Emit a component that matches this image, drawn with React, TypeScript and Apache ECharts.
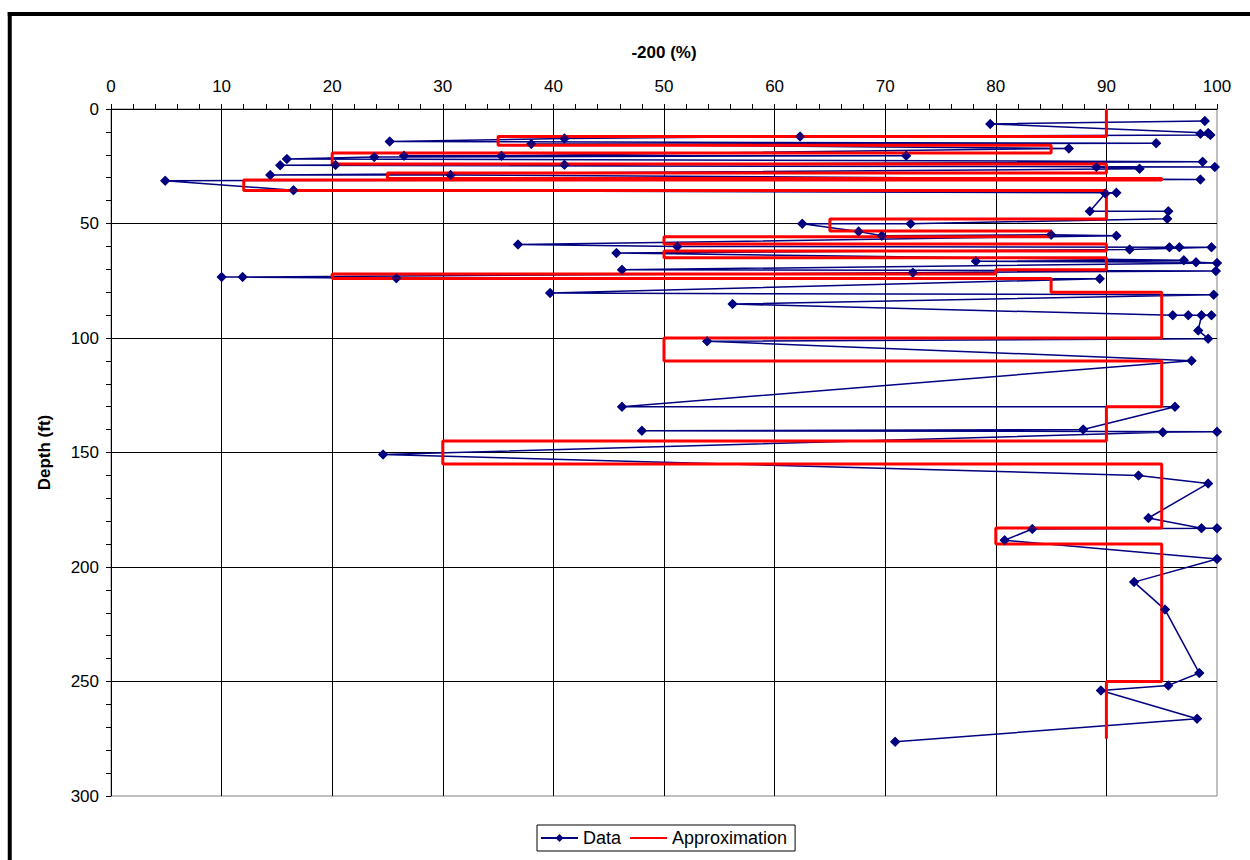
import React, { useEffect, useRef } from "react";
import * as echarts from "echarts";

const FONT = "Liberation Sans, Arial, sans-serif";

// Axis ranges / ticks
const X_MIN = 0;
const X_MAX = 100;
const X_STEP = 10;
const Y_MIN = 0;
const Y_MAX = 300;
const Y_STEP = 50;

// Measured data: -200 (%) and depth (ft), in plotted order
const dataPct = [
  98.9, 79.5, 99.2, 98.5, 99.4, 62.3, 41.0, 25.2, 94.5, 38.0,
  86.6, 35.3, 26.5, 71.9, 23.8, 15.9, 98.7, 41.0, 20.3, 15.3,
  99.8, 89.1, 93.0, 14.4, 30.7, 98.5, 4.9, 16.5, 90.9, 89.9,
  88.5, 95.6, 95.5, 72.3, 62.5, 67.6, 69.7, 85.0, 90.9, 36.8,
  51.2, 95.7, 96.6, 99.5, 92.1, 45.7, 97.0, 78.2, 98.1, 100.0,
  46.2, 99.9, 72.5, 10.0, 11.9, 25.8, 89.4, 39.7, 99.7, 56.2,
  96.0, 97.4, 99.5, 98.6, 98.3, 99.2, 53.9, 97.7, 46.2, 96.2,
  87.9, 48.0, 100.0, 95.1, 24.6, 92.9, 99.2, 93.8, 98.6, 100.0,
  83.3, 80.8, 100.0, 92.5, 95.3, 98.4, 95.6, 89.5, 98.2, 70.9,
];
const dataDepth = [
  5.2, 6.5, 10.5, 10.8, 11.4, 12.0, 12.9, 14.2, 15.0, 15.3,
  17.2, 20.4, 20.4, 20.4, 21.0, 21.8, 23.0, 24.3, 24.4, 24.6,
  25.3, 25.3, 26.1, 28.8, 28.8, 30.8, 31.3, 35.5, 36.6, 36.9,
  44.7, 44.7, 47.9, 50.1, 50.1, 53.5, 55.3, 54.9, 55.3, 59.2,
  60.0, 60.4, 60.4, 60.4, 61.4, 62.9, 66.1, 66.5, 66.9, 67.2,
  70.2, 70.7, 71.5, 73.4, 73.4, 73.9, 74.1, 80.4, 81.1, 85.2,
  90.1, 90.1, 90.1, 90.1, 96.7, 100.3, 101.4, 109.9, 130.0, 130.0,
  140.0, 140.5, 140.9, 141.2, 150.9, 160.0, 163.5, 178.6, 183.1, 183.1,
  183.4, 188.3, 196.5, 206.6, 218.6, 246.3, 251.7, 253.9, 266.3, 276.3,
];

// Step approximation: interval boundaries (ft) and value in each interval (%)
const approxDepths = [
  0, 12, 15.8, 19.2, 24, 28, 30.3, 31, 35.6, 48, 53.3, 55.8, 59, 62,
  65, 70.2, 72, 74, 80, 100, 110, 130, 145, 155, 183, 190, 250, 275,
];
const approxValues = [
  90, 35, 85, 20, 90, 25, 95, 12, 90, 65, 85, 50, 90, 50,
  90, 80, 20, 85, 95, 50, 95, 90, 30, 95, 80, 95, 90,
];

export default function App() {
  const ref = useRef<HTMLDivElement>(null);

  useEffect(() => {
    document.body.style.margin = "0";
    document.body.style.overflow = "hidden";
    if (!ref.current) return;
    const chart = echarts.init(ref.current, undefined, { renderer: "svg" });

    const dataPoints = dataPct.map((v, i) => [v, dataDepth[i]]);
    const approxPoints: number[][] = [];
    approxValues.forEach((v, i) => {
      approxPoints.push([v, approxDepths[i]]);
      approxPoints.push([v, approxDepths[i + 1]]);
    });

    const axisText = { fontSize: 17, color: "#000", fontFamily: FONT };

    chart.setOption({
      animation: false,
      backgroundColor: "#fff",
      textStyle: { fontFamily: FONT },
      grid: {
        left: 111,
        top: 109,
        width: 1106,
        height: 687,
        show: true,
        borderColor: "#808080",
        borderWidth: 1,
        backgroundColor: "transparent",
      },
      graphic: [
        {
          type: "line",
          silent: true,
          shape: { x1: 9.75, y1: 12, x2: 9.75, y2: 860 },
          style: { stroke: "#000", lineWidth: 4 },
        },
        {
          type: "line",
          silent: true,
          shape: { x1: 7.75, y1: 14, x2: 1250, y2: 14 },
          style: { stroke: "#000", lineWidth: 4 },
        },
      ],
      legend: {
        data: [
          "Data",
          { name: "Approximation", itemStyle: { opacity: 0 } },
        ],
        left: 537,
        top: 825,
        orient: "horizontal",
        padding: [4, 8, 4, 3],
        itemGap: 8,
        itemWidth: 37,
        itemHeight: 10,
        borderColor: "#000",
        borderWidth: 1,
        textStyle: { fontSize: 18, color: "#000", fontFamily: FONT },
      },
      xAxis: {
        type: "value",
        position: "top",
        min: X_MIN,
        max: X_MAX,
        interval: X_STEP,
        name: "-200 (%)",
        nameLocation: "middle",
        nameGap: 48,
        nameTextStyle: { ...axisText, fontWeight: "bold" },
        axisLine: { show: true, onZero: false, lineStyle: { color: "#000", width: 1 } },
        axisTick: { show: true, inside: false, length: 5, lineStyle: { color: "#000" } },
        minorTick: { show: true, splitNumber: 5, length: 5, lineStyle: { color: "#000" } },
        axisLabel: { ...axisText, margin: 14 },
        splitLine: {
          show: true,
          showMinLine: false,
          showMaxLine: false,
          lineStyle: { color: "#000", width: 1 },
        },
      },
      yAxis: {
        type: "value",
        inverse: true,
        min: Y_MIN,
        max: Y_MAX,
        interval: Y_STEP,
        name: "Depth (ft)",
        nameLocation: "middle",
        nameGap: 58,
        nameTextStyle: { ...axisText, fontWeight: "bold" },
        axisLine: { show: true, onZero: false, lineStyle: { color: "#000", width: 1 } },
        axisTick: { show: true, inside: false, length: 5, lineStyle: { color: "#000" } },
        minorTick: { show: true, splitNumber: 5, length: 5, lineStyle: { color: "#000" } },
        axisLabel: { ...axisText, margin: 12 },
        splitLine: {
          show: true,
          showMinLine: false,
          showMaxLine: false,
          lineStyle: { color: "#000", width: 1 },
        },
      },
      series: [
        {
          name: "Data",
          type: "line",
          data: dataPoints,
          symbol: "diamond",
          symbolSize: 10,
          showSymbol: true,
          lineStyle: { color: "#000080", width: 1.5 },
          itemStyle: { color: "#000080" },
          z: 2,
        },
        {
          name: "Approximation",
          type: "line",
          data: approxPoints,
          symbol: "none",
          lineStyle: { color: "#ff0000", width: 3 },
          itemStyle: { color: "#ff0000" },
          z: 3,
        },
        {
          type: "scatter",
          data: dataPoints,
          symbol: "diamond",
          symbolSize: 10,
          itemStyle: { color: "#000080" },
          z: 4,
          silent: true,
        },
      ],
    });

    return () => chart.dispose();
  }, []);

  return <div ref={ref} style={{ width: 1250, height: 860 }} />;
}
